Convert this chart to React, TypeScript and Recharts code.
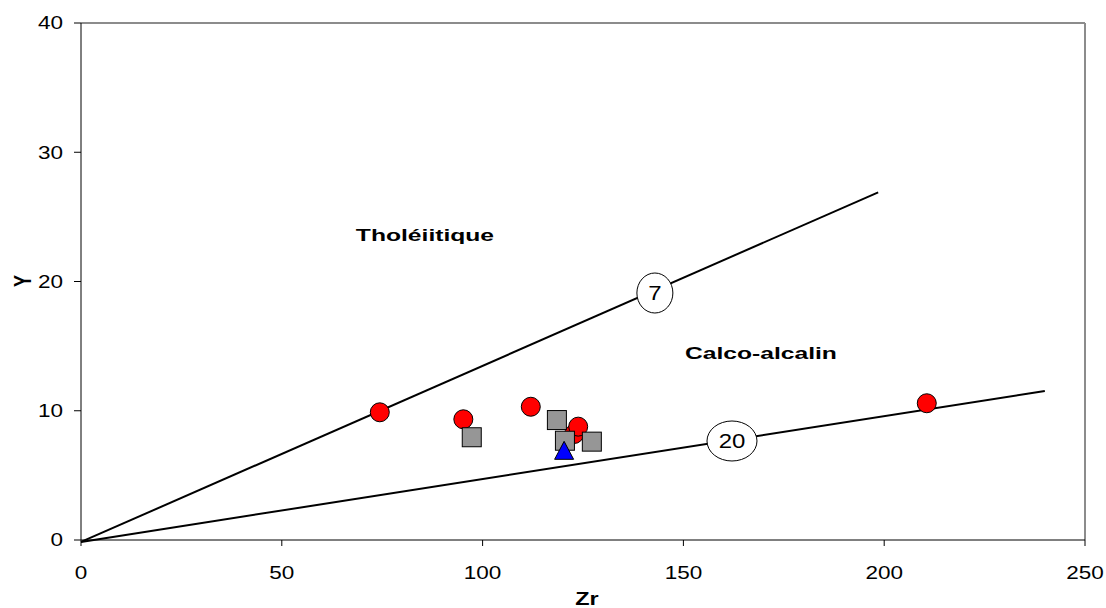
import {
  ReferenceDot,
  ReferenceLine,
  Scatter,
  ScatterChart,
  XAxis,
  YAxis,
} from "recharts";

type Pt = { x: number; y: number };

const redCircles: Pt[] = [
  { x: 74.4, y: 9.88 },
  { x: 95.2, y: 9.34 },
  { x: 112.0, y: 10.31 },
  { x: 122.8, y: 8.2 },
  { x: 123.8, y: 8.77 },
  { x: 210.6, y: 10.58 },
];
const graySquares: Pt[] = [
  { x: 97.3, y: 7.95 },
  { x: 118.5, y: 9.28 },
  { x: 120.5, y: 7.68 },
  { x: 127.2, y: 7.61 },
];
const blueTriangles: Pt[] = [{ x: 120.3, y: 6.9 }];

// Zr/Y = 7 and Zr/Y = 20 boundaries
const line7: Pt[] = [
  { x: 0, y: -0.15 },
  { x: 198.5, y: 26.9 },
];
const line20: Pt[] = [
  { x: 0, y: -0.15 },
  { x: 240, y: 11.53 },
];
const ratioLabels = [
  { text: "7", x: 142.9, y: 19.11, w: 36 },
  { text: "20", x: 162.1, y: 7.66, w: 50 },
];
const fieldLabels = [
  { text: "Tholéiitique", x: 85.65, y: 23.13 },
  { text: "Calco-alcalin", x: 169.3, y: 14.0 },
];

const xTicks = [0, 50, 100, 150, 200, 250];
const yTicks = [0, 10, 20, 30, 40];

const FONT = "'Liberation Sans', Arial, sans-serif";

const XTick = (p: any) => (
  <text
    x={0}
    y={0}
    transform={`translate(${p.x},${p.y}) scale(1.25,1)`}
    textAnchor="middle"
    dy="0.71em"
    fontSize={18}
    fontFamily={FONT}
    fill="#000"
  >
    {p.payload.value}
  </text>
);

const YTick = (p: any) => (
  <text
    x={0}
    y={0}
    transform={`translate(${p.x},${p.y}) scale(1.25,1)`}
    textAnchor="end"
    dy="0.36em"
    fontSize={18}
    fontFamily={FONT}
    fill="#000"
  >
    {p.payload.value}
  </text>
);

const circle = (p: any) => (
  <circle cx={p.cx} cy={p.cy} r={9.5} fill="#ff0000" stroke="#000" strokeWidth={1} />
);
const square = (p: any) => (
  <rect x={p.cx - 9.5} y={p.cy - 9.5} width={19} height={19} fill="#969696" stroke="#000" strokeWidth={1} />
);
const triangle = (p: any) => (
  <path
    d={`M${p.cx},${p.cy - 9.5} L${p.cx + 9.5},${p.cy + 8.5} L${p.cx - 9.5},${p.cy + 8.5} Z`}
    fill="#0000ff"
    stroke="#000"
    strokeWidth={1}
  />
);

export default function App() {
  return (
    <div style={{ position: "absolute", left: 0, top: 0, width: 1106, height: 608, background: "#fff" }}>
      <ScatterChart width={1106} height={608} margin={{ top: 23, right: 21, bottom: 0, left: 0 }}>
        <XAxis
          type="number"
          dataKey="x"
          domain={[0, 250]}
          ticks={xTicks}
          allowDataOverflow
          height={68}
          stroke="#000"
          tickSize={6}
          tickMargin={20}
          tick={XTick}
          label={{
            content: () => (
              <text
                x={0}
                y={0}
                transform="translate(587,605) scale(1.3,1)"
                textAnchor="middle"
                fontSize={18}
                fontWeight="bold"
                fontFamily={FONT}
              >
                Zr
              </text>
            ),
          }}
        />
        <YAxis
          type="number"
          dataKey="y"
          domain={[0, 40]}
          ticks={yTicks}
          allowDataOverflow
          width={81}
          stroke="#000"
          tickSize={7}
          tickMargin={11}
          tick={YTick}
          label={{
            content: () => (
              <text
                x={0}
                y={0}
                textAnchor="middle"
                fontSize={18}
                fontWeight="bold"
                fontFamily={FONT}
                transform="translate(31,281) rotate(-90) scale(1,1.35)"
              >
                Y
              </text>
            ),
          }}
        />
        <ReferenceLine y={40} stroke="#8c8c8c" strokeWidth={2} />
        <ReferenceLine x={250} stroke="#8c8c8c" strokeWidth={2} />
        <ReferenceLine
          segment={[line7[0], line7[1]]}
          stroke="#000"
          strokeWidth={2}
          ifOverflow="visible"
        />
        <ReferenceLine
          segment={[line20[0], line20[1]]}
          stroke="#000"
          strokeWidth={2}
          ifOverflow="visible"
        />
        {ratioLabels.map((l) => (
          <ReferenceDot
            key={l.text}
            x={l.x}
            y={l.y}
            r={0}
            shape={(p: any) => (
              <g>
                <ellipse cx={p.cx} cy={p.cy} rx={l.w / 2} ry={20} fill="#fff" stroke="#000" strokeWidth={1} />
                <text
                  x={0}
                  y={0}
                  transform={`translate(${p.cx},${p.cy}) scale(1.2,1)`}
                  textAnchor="middle"
                  dy="0.36em"
                  fontSize={20}
                  fontFamily={FONT}
                  fill="#000"
                >
                  {l.text}
                </text>
              </g>
            )}
          />
        ))}
        {fieldLabels.map((l) => (
          <ReferenceDot
            key={l.text}
            x={l.x}
            y={l.y}
            r={0}
            shape={(p: any) => (
              <text
                x={0}
                y={0}
                transform={`translate(${p.cx},${p.cy}) scale(1.45,1)`}
                textAnchor="middle"
                fontSize={17}
                fontWeight="bold"
                fontFamily={FONT}
                fill="#000"
              >
                {l.text}
              </text>
            )}
          />
        ))}
        <Scatter data={redCircles} shape={circle} isAnimationActive={false} />
        <Scatter data={graySquares} shape={square} isAnimationActive={false} />
        <Scatter data={blueTriangles} shape={triangle} isAnimationActive={false} />
      </ScatterChart>
    </div>
  );
}
